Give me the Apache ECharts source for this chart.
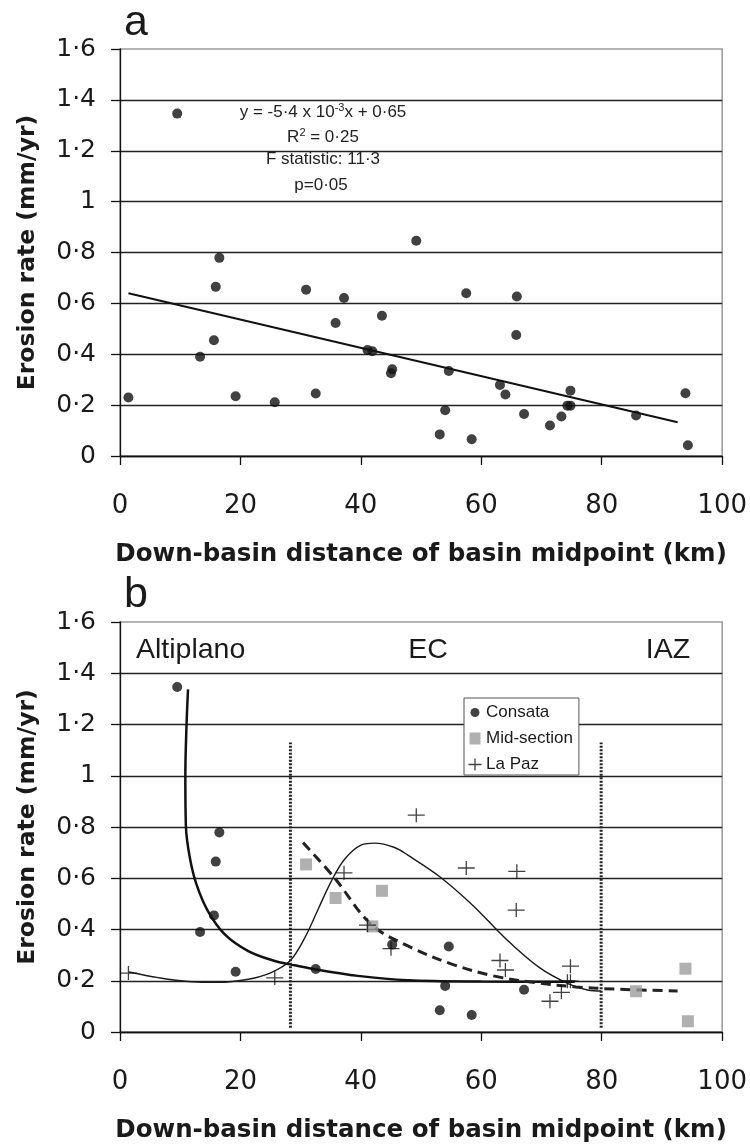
<!DOCTYPE html>
<html>
<head>
<meta charset="utf-8">
<script src="https://cdn.jsdelivr.net/npm/echarts@6/dist/echarts.min.js"></script>
<style>
  html, body { margin: 0; padding: 0; background: #fff; }
  #chart { width: 750px; height: 1145px; }
</style>
</head>
<body>
<div id="chart"></div>
<script>
// tick labels
const xTickLabels = ['0', '20', '40', '60', '80', '100'];
const yTickLabels = ['0', '0·2', '0·4', '0·6', '0·8', '1', '1·2', '1·4', '1·6'];
const regionNames = ['Altiplano', 'EC', 'IAZ'];

// basins: [distance km, erosion rate mm/yr]
const consata = [[9.5, 1.346], [13.3, 0.39], [15.6, 0.455], [15.9, 0.665], [16.5, 0.779], [19.2, 0.235],
    [32.5, 0.246], [45.2, 0.341], [53.1, 0.085], [54.0, 0.18], [54.6, 0.334], [58.4, 0.066], [67.1, 0.165]];
const midSection = [[30.9, 0.654], [35.8, 0.523], [41.9, 0.412], [43.5, 0.551], [85.7, 0.159], [93.9, 0.247], [94.3, 0.042]];
const laPaz = [[1.4, 0.23], [25.7, 0.211], [37.2, 0.621], [41.1, 0.417], [45.0, 0.325], [49.2, 0.846], [57.5, 0.64],
    [65.9, 0.627], [65.8, 0.476], [63.1, 0.279], [64.0, 0.242], [71.4, 0.12], [73.3, 0.155], [74.3, 0.198],
    [74.8, 0.198], [74.8, 0.257]];

// regression line (panel a)
const trendLine = [[1.4, 0.64], [92.6, 0.133]];

// fitted curves
const consataFit = [[11.3, 1.337], [11.05, 1.2], [10.85, 1.0], [10.95, 0.8], [11.6, 0.68], [12.7, 0.576], [14.6, 0.472],
    [17.4, 0.381], [21.3, 0.316], [25.7, 0.277], [28.2, 0.264], [32.3, 0.245], [39.5, 0.219], [47.8, 0.202],
    [60, 0.197], [75.5, 0.196]];
const laPazFit = [[1.5, 0.234], [6.35, 0.212], [11.9, 0.196], [16.3, 0.194], [21.3, 0.206], [25.1, 0.232], [28.2, 0.277],
    [30.7, 0.368], [32.9, 0.479], [35.1, 0.589], [37.3, 0.674], [40.1, 0.73], [42.3, 0.737], [45.6, 0.72],
    [47.8, 0.69], [53.1, 0.606], [58.6, 0.494], [64.1, 0.363], [69.6, 0.252], [74.4, 0.189], [77.8, 0.163], [79.9, 0.16]];
const midFit = [[30.4, 0.739], [35.6, 0.602], [41.7, 0.42], [47.8, 0.336], [55.1, 0.265], [62, 0.219], [68.9, 0.193],
    [75.7, 0.176], [82.6, 0.167], [92.6, 0.16]];

// zone boundaries
const boundaryX = [28.3, 79.9];
const boundaryY = [0.017, 1.13];

const txt = '#1a1a1a';
const crossPath = 'path://M0,6.35H17V7.65H0Z M7.85,0H9.15V14H7.85Z';

const makeX = (gi) => ({
    type: 'value', gridIndex: gi, min: 0, max: 100, interval: 20,
    axisLine: { show: true, onZero: false, lineStyle: { color: '#111', width: 1.3 } },
    axisTick: { show: true, length: 9, lineStyle: { color: '#111', width: 1.3 } },
    axisLabel: {
        margin: 37, fontSize: 26, fontFamily: 'DejaVu Sans', color: txt,
        formatter: (v) => xTickLabels[Math.round(v / 20)]
    },
    splitLine: { show: false },
    name: 'Down-basin distance of basin midpoint (km)',
    nameLocation: 'middle', nameGap: 86,
    nameTextStyle: { fontFamily: 'DejaVu Sans', fontWeight: 'bold', fontSize: 24.5, color: txt }
});

const makeY = (gi) => ({
    type: 'value', gridIndex: gi, min: 0, max: 1.6, interval: 0.2,
    axisLine: { show: true, onZero: false, lineStyle: { color: '#111', width: 1.3 } },
    axisTick: { show: true, length: 9, lineStyle: { color: '#111', width: 1.3 } },
    axisLabel: {
        margin: 24, fontSize: 25, fontFamily: 'DejaVu Sans', color: txt,
        formatter: (v) => yTickLabels[Math.round(v / 0.2)]
    },
    splitLine: { show: true, showMaxLine: false, lineStyle: { color: '#222', width: 1.3 } },
    name: 'Erosion rate (mm/yr)',
    nameLocation: 'middle', nameGap: 80,
    nameTextStyle: { fontFamily: 'DejaVu Sans', fontWeight: 'bold', fontSize: 23.5, color: txt }
});

const vline = (x) => [[x, boundaryY[0]], [x, boundaryY[1]]];

const chart = echarts.init(document.getElementById('chart'));
chart.setOption({
    animation: false,
    backgroundColor: '#fff',
    grid: [
        { left: 120, top: 49, width: 603, height: 407, show: true, borderColor: '#9a9a9a', borderWidth: 1.5 },
        { left: 120, top: 622, width: 603, height: 410, show: true, borderColor: '#9a9a9a', borderWidth: 1.5 }
    ],
    xAxis: [makeX(0), makeX(1)],
    yAxis: [makeY(0), makeY(1)],
    legend: {
        orient: 'vertical', left: 464, top: 698,
        padding: [6, 6, 2, 4], itemGap: 9, itemWidth: 14, itemHeight: 14,
        borderColor: '#555', borderWidth: 1, backgroundColor: '#fff',
        selectedMode: false,
        textStyle: { fontFamily: 'Liberation Sans', fontSize: 17, color: txt, padding: [0, 0, 0, -1] },
        data: [
            { name: 'Consata', icon: 'path://M0,0M14,14M2.5,7A4.5,4.5,0,1,1,11.5,7A4.5,4.5,0,1,1,2.5,7Z' },
            { name: 'Mid-section', icon: 'path://M0,0M14,14M1.5,1H12.5V13H1.5Z' },
            { name: 'La Paz', icon: 'path://M0,0M14,14M0.5,6.35H13.5V7.65H0.5Z M6.35,1H7.65V13H6.35Z' }
        ]
    },
    series: [
        // panel a
        {
            type: 'line', xAxisIndex: 0, yAxisIndex: 0, data: trendLine, showSymbol: false, silent: true,
            lineStyle: { color: '#111', width: 2 }, z: 2
        },
        {
            name: 'all basins', type: 'scatter', xAxisIndex: 0, yAxisIndex: 0,
            data: consata.concat(midSection, laPaz),
            symbol: 'circle', symbolSize: 10, itemStyle: { color: '#111' }, z: 3
        },
        // panel b curves
        {
            type: 'line', xAxisIndex: 1, yAxisIndex: 1, data: consataFit, showSymbol: false, smooth: 0.35, silent: true,
            lineStyle: { color: '#111', width: 2.5 }, z: 2
        },
        {
            type: 'line', xAxisIndex: 1, yAxisIndex: 1, data: laPazFit, showSymbol: false, smooth: 0.35, silent: true,
            lineStyle: { color: '#1a1a1a', width: 1.4 }, z: 2
        },
        {
            type: 'line', xAxisIndex: 1, yAxisIndex: 1, data: midFit, showSymbol: false, smooth: 0.35, silent: true,
            lineStyle: { color: '#222', width: 3, type: [10, 6] }, z: 2
        },
        {
            type: 'line', xAxisIndex: 1, yAxisIndex: 1, data: vline(boundaryX[0]), showSymbol: false, silent: true,
            lineStyle: { color: '#222', width: 3, type: [2, 1.5] }, z: 2
        },
        {
            type: 'line', xAxisIndex: 1, yAxisIndex: 1, data: vline(boundaryX[1]), showSymbol: false, silent: true,
            lineStyle: { color: '#222', width: 3, type: [2, 1.5] }, z: 2
        },
        // panel b points
        {
            name: 'Consata', type: 'scatter', xAxisIndex: 1, yAxisIndex: 1, data: consata,
            symbol: 'circle', symbolSize: 10, itemStyle: { color: '#111' }, z: 3
        },
        {
            name: 'Mid-section', type: 'scatter', xAxisIndex: 1, yAxisIndex: 1, data: midSection,
            symbol: 'rect', symbolSize: 12, itemStyle: { color: '#9c9c9c' }, z: 3
        },
        {
            name: 'La Paz', type: 'scatter', xAxisIndex: 1, yAxisIndex: 1, data: laPaz,
            symbol: crossPath, symbolSize: [17, 14], itemStyle: { color: '#111' }, z: 3
        }
    ],
    graphic: [
        { type: 'text', left: 124, top: 2, style: { text: 'a', fontSize: 43, fontFamily: 'Liberation Sans', fill: txt } },
        { type: 'text', left: 124, top: 574, style: { text: 'b', fontSize: 43, fontFamily: 'Liberation Sans', fill: txt } },
        {
            type: 'text', x: 323, y: 112,
            style: {
                text: 'y = -5·4 x 10{sup|-3}x + 0·65', fontSize: 17, fontFamily: 'Liberation Sans', fill: '#222',
                align: 'center', verticalAlign: 'middle', lineHeight: 20,
                rich: { sup: { fontSize: 11, verticalAlign: 'top', lineHeight: 11, fill: '#222' } }
            }
        },
        {
            type: 'text', x: 323, y: 137,
            style: {
                text: 'R{sup|2} = 0·25', fontSize: 17, fontFamily: 'Liberation Sans', fill: '#222',
                align: 'center', verticalAlign: 'middle', lineHeight: 20,
                rich: { sup: { fontSize: 11, verticalAlign: 'top', lineHeight: 11, fill: '#222' } }
            }
        },
        {
            type: 'text', x: 323, y: 159,
            style: { text: 'F statistic: 11·3', fontSize: 17, fontFamily: 'Liberation Sans', fill: '#222', align: 'center', verticalAlign: 'middle' }
        },
        {
            type: 'text', x: 321, y: 185,
            style: { text: 'p=0·05', fontSize: 17, fontFamily: 'Liberation Sans', fill: '#222', align: 'center', verticalAlign: 'middle' }
        },
        {
            type: 'text', x: 136, y: 650,
            style: { text: regionNames[0], fontSize: 28.5, fontFamily: 'Liberation Sans', fill: txt, align: 'left', verticalAlign: 'middle' }
        },
        {
            type: 'text', x: 428, y: 650,
            style: { text: regionNames[1], fontSize: 28.5, fontFamily: 'Liberation Sans', fill: txt, align: 'center', verticalAlign: 'middle' }
        },
        {
            type: 'text', x: 668, y: 650,
            style: { text: regionNames[2], fontSize: 28.5, fontFamily: 'Liberation Sans', fill: txt, align: 'center', verticalAlign: 'middle' }
        }
    ]
});
</script>
</body>
</html>
